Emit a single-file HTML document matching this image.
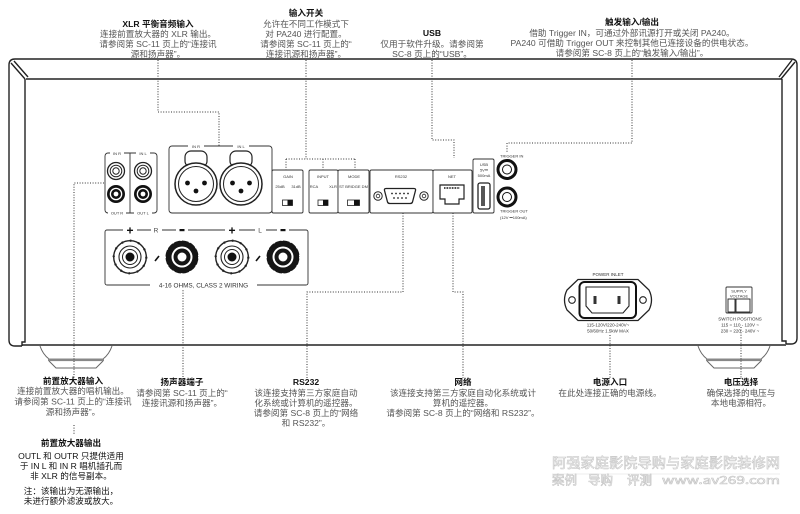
<!DOCTYPE html>
<html><head><meta charset="utf-8">
<style>
html,body{margin:0;padding:0;background:#fff;}
svg{display:block;}
text{font-family:"Liberation Sans","Noto Sans CJK SC",sans-serif;}
.h{font-size:8.6px;font-weight:bold;fill:#111;text-anchor:middle;}
.b{font-size:8.6px;fill:#555;text-anchor:middle;}
.k{font-size:8.6px;fill:#111;text-anchor:middle;}
.s{font-size:4px;fill:#333;text-anchor:middle;}
.m{font-size:4.5px;fill:#333;text-anchor:middle;}
.d{fill:none;stroke:#333;stroke-width:1;stroke-dasharray:1 1.6;}
.o{fill:none;stroke:#222;stroke-width:1.4;}
.p{fill:#fff;stroke:#333;stroke-width:0.9;}
.w{font-family:"Noto Sans CJK SC","WenQuanYi Zen Hei",sans-serif;fill:#fff;stroke:#c6c6c6;stroke-width:0.6;}
</style></head><body>
<svg width="800" height="514" viewBox="0 0 800 514" xmlns="http://www.w3.org/2000/svg">

<!-- feet -->
<g fill="#fff" stroke="#666" stroke-width="1">
  <path d="M40,346 C42,352 45,356 49,359 L103,359 C107,356 110,352 112,346"/>
  <path d="M49,361 L56,368 L96,368 L103,361"/>
  <path d="M698,346 C700,352 703,356 707,359 L761,359 C765,356 768,352 770,346"/>
  <path d="M707,361 L714,368 L754,368 L761,361"/>
</g>
<rect x="48" y="358.5" width="56" height="2.6" fill="#888"/>
<rect x="706" y="358.5" width="56" height="2.6" fill="#888"/>

<!-- chassis -->
<path class="o" d="M22,346 L15,346 Q9,346 9,340 L9,65 Q9,59 15,59 L791,59 Q797,59 797,65 L797,338 Q797,344 791,344 L786,344"/>
<path class="o" d="M22,345 H786"/>
<path class="o" d="M25,79 V342 H22 V346"/>
<path class="o" d="M782,79 V341 H786 V344"/>
<path class="o" d="M26,79 H782"/>
<path class="o" d="M11,63 L25,79 M14,61 L28,77"/>
<path class="o" d="M795,62 L781,79 M792,60 L779,77"/>

<!-- dotted connectors -->
<path class="d" d="M158,60 V112 H219 V146"/>
<path class="d" d="M306,60 V159 M286,159 H355 M286,159 V170 M323,159 V170 M355,159 V170"/>
<path class="d" d="M432,60 V140 H454 V158"/>
<path class="d" d="M632,60 V143 H507 V152"/>
<path class="d" d="M104,183 H74 V379 M74,425 V434"/>
<path class="d" d="M183,285 V379"/>
<path class="d" d="M403,213 V292 H307 V378"/>
<path class="d" d="M453,213 V292 H463 V378"/>
<path class="d" d="M610,335 V378"/>
<path class="d" d="M741,327 V378"/>

<!-- preamp RCA block -->
<rect x="105" y="153" width="52" height="60" rx="3" class="p"/>
<line x1="130" y1="153" x2="130" y2="213" stroke="#333" stroke-width="0.9"/>
<rect x="110" y="151" width="14" height="5" fill="#fff"/><rect x="136" y="151" width="14" height="5" fill="#fff"/>
<rect x="108" y="211" width="18" height="5" fill="#fff"/><rect x="134" y="211" width="18" height="5" fill="#fff"/>
<text class="s" x="117" y="155">IN R</text><text class="s" x="143" y="155">IN L</text>
<text class="s" x="117" y="214.5">OUT R</text><text class="s" x="143" y="214.5">OUT L</text>
<g stroke="#222" fill="#fff">
  <circle cx="116" cy="171" r="8.5" stroke-width="1.3"/><circle cx="116" cy="171" r="5.8" stroke-width="1"/><circle cx="116" cy="171" r="3.2" stroke-width="1"/>
  <circle cx="143" cy="171" r="8.5" stroke-width="1.3"/><circle cx="143" cy="171" r="5.8" stroke-width="1"/><circle cx="143" cy="171" r="3.2" stroke-width="1"/>
</g>
<g>
  <circle cx="116" cy="194" r="9" fill="#111"/><circle cx="116" cy="194" r="6.3" fill="#fff"/><circle cx="116" cy="194" r="5" fill="#111"/><circle cx="116" cy="194" r="2.4" fill="#fff"/>
  <circle cx="143" cy="194" r="9" fill="#111"/><circle cx="143" cy="194" r="6.3" fill="#fff"/><circle cx="143" cy="194" r="5" fill="#111"/><circle cx="143" cy="194" r="2.4" fill="#fff"/>
</g>

<!-- XLR block -->
<rect x="169" y="146" width="103" height="67" rx="3" class="p"/>
<rect x="188" y="144" width="16" height="5" fill="#fff"/><rect x="233" y="144" width="16" height="5" fill="#fff"/>
<text class="s" x="196" y="148">IN R</text><text class="s" x="241" y="148">IN L</text>
<g stroke="#222" fill="#fff">
  <rect x="185" y="151" width="22" height="16" rx="6" stroke-width="1.2"/>
  <circle cx="196" cy="184" r="21" stroke-width="1.5"/><circle cx="196" cy="184" r="17.5" stroke-width="1"/>
  <rect x="230" y="151" width="22" height="16" rx="6" stroke-width="1.2"/>
  <circle cx="241" cy="184" r="21" stroke-width="1.5"/><circle cx="241" cy="184" r="17.5" stroke-width="1"/>
</g>
<g fill="#111">
  <circle cx="187.5" cy="183" r="2.4"/><circle cx="204.5" cy="183" r="2.4"/><circle cx="196" cy="191" r="2.4"/>
  <circle cx="232.5" cy="183" r="2.4"/><circle cx="249.5" cy="183" r="2.4"/><circle cx="241" cy="191" r="2.4"/>
</g>

<!-- speaker block -->
<rect x="105" y="230" width="203" height="55" rx="2" class="p"/>
<g fill="#fff">
  <rect x="123" y="226" width="14" height="8"/><rect x="151" y="226" width="11" height="8"/><rect x="176" y="226" width="12" height="8"/>
  <rect x="225" y="226" width="14" height="8"/><rect x="255" y="226" width="11" height="8"/><rect x="277" y="226" width="12" height="8"/>
  <rect x="150" y="281" width="107" height="8"/>
</g>
<g font-family="Liberation Sans, sans-serif" text-anchor="middle">
  <text x="130" y="234.5" font-size="12" font-weight="bold" fill="#111">+</text>
  <text x="156" y="232.5" font-size="6.5" fill="#444">R</text>
  <rect x="179.5" y="229" width="5" height="2.2" fill="#111"/>
  <text x="232" y="234.5" font-size="12" font-weight="bold" fill="#111">+</text>
  <text x="260" y="232.5" font-size="6.5" fill="#444">L</text>
  <rect x="280.5" y="229" width="5" height="2.2" fill="#111"/>
  <text x="203.5" y="287.3" font-size="6.4" fill="#333">4-16 OHMS, CLASS 2 WIRING</text>
</g>
<!-- terminals -->
<g>
  <circle cx="130" cy="257" r="16.3" fill="#fff" stroke="#222" stroke-width="1.4"/>
  <circle cx="130" cy="257" r="16.3" fill="none" stroke="#222" stroke-width="2.2" stroke-dasharray="1.6 6.9"/>
  <circle cx="130" cy="257" r="11" fill="none" stroke="#222" stroke-width="1.1"/>
  <circle cx="130" cy="257" r="7.5" fill="none" stroke="#222" stroke-width="1"/>
  <circle cx="130" cy="257" r="4.5" fill="#111"/>
  <circle cx="232" cy="257" r="16.3" fill="#fff" stroke="#222" stroke-width="1.4"/>
  <circle cx="232" cy="257" r="16.3" fill="none" stroke="#222" stroke-width="2.2" stroke-dasharray="1.6 6.9"/>
  <circle cx="232" cy="257" r="11" fill="none" stroke="#222" stroke-width="1.1"/>
  <circle cx="232" cy="257" r="7.5" fill="none" stroke="#222" stroke-width="1"/>
  <circle cx="232" cy="257" r="4.5" fill="#111"/>
  <circle cx="182" cy="257" r="16.5" fill="#151515"/>
  <circle cx="182" cy="257" r="16.8" fill="none" stroke="#fff" stroke-width="1.4" stroke-dasharray="1.6 7"/>
  <circle cx="182" cy="257" r="10.5" fill="#fff"/><circle cx="182" cy="257" r="8.5" fill="#151515"/><circle cx="182" cy="257" r="4.5" fill="#fff"/>
  <circle cx="283" cy="257" r="16.5" fill="#151515"/>
  <circle cx="283" cy="257" r="16.8" fill="none" stroke="#fff" stroke-width="1.4" stroke-dasharray="1.6 7"/>
  <circle cx="283" cy="257" r="10.5" fill="#fff"/><circle cx="283" cy="257" r="8.5" fill="#151515"/><circle cx="283" cy="257" r="4.5" fill="#fff"/>
</g>
<path d="M155,261 L159,256 M256,261 L260,256" stroke="#111" stroke-width="1.6"/>

<!-- small switch panels -->
<rect x="272" y="170" width="31" height="43" rx="1.5" class="p"/>
<rect x="309" y="170" width="29" height="43" rx="1.5" class="p"/>
<rect x="338" y="170" width="31" height="43" rx="1.5" class="p"/>
<rect x="370" y="170" width="63" height="43" rx="1.5" class="p"/>
<rect x="433" y="170" width="39" height="43" rx="1.5" class="p"/>
<rect x="473" y="159" width="21" height="54" rx="1.5" class="p"/>
<text class="s" x="288" y="178">GAIN</text>
<text class="s" x="280" y="188">25dB</text><text class="s" x="296" y="188">31dB</text>
<rect x="282.5" y="200" width="10" height="5.5" fill="#fff" stroke="#222" stroke-width="0.8"/><rect x="287.5" y="200" width="5" height="5.5" fill="#111"/>
<text class="s" x="323" y="178">INPUT</text>
<text class="s" x="314" y="188">RCA</text><text class="s" x="333" y="188">XLR</text>
<rect x="318" y="200" width="10" height="5.5" fill="#fff" stroke="#222" stroke-width="0.8"/><rect x="323" y="200" width="5" height="5.5" fill="#111"/>
<text class="s" x="354" y="178">MODE</text>
<text class="s" x="353.5" y="188">ST BRIDGE DM</text>
<rect x="347.5" y="200" width="12" height="5.5" fill="#fff" stroke="#222" stroke-width="0.8"/><rect x="354" y="200" width="5.5" height="5.5" fill="#111"/>
<text class="s" x="401" y="178">RS232</text>
<g stroke="#222" fill="#fff">
  <circle cx="378" cy="196" r="4.2" stroke-width="1"/><circle cx="378" cy="196" r="1.8" stroke-width="0.8"/>
  <circle cx="424" cy="196" r="4.2" stroke-width="1"/><circle cx="424" cy="196" r="1.8" stroke-width="0.8"/>
  <path d="M386,188.5 H414 Q416,188.5 415.5,190.5 L412.5,202 Q412,203.5 410,203.5 H390 Q388,203.5 387.5,202 L384.5,190.5 Q384,188.5 386,188.5 Z" stroke-width="1.3"/>
</g>
<g fill="#222">
  <circle cx="392" cy="193.5" r="0.9"/><circle cx="396" cy="193.5" r="0.9"/><circle cx="400" cy="193.5" r="0.9"/><circle cx="404" cy="193.5" r="0.9"/><circle cx="408" cy="193.5" r="0.9"/>
  <circle cx="394" cy="198" r="0.9"/><circle cx="398" cy="198" r="0.9"/><circle cx="402" cy="198" r="0.9"/><circle cx="406" cy="198" r="0.9"/>
</g>
<text class="s" x="452" y="178">NET</text>
<path d="M440,185 H464 V199 H459 V204 H445 V199 H440 Z" fill="#fff" stroke="#222" stroke-width="1.2"/>
<line x1="444" y1="188" x2="460" y2="188" stroke="#222" stroke-width="2" stroke-dasharray="0.8 0.8"/>
<text class="s" x="484" y="166">USB</text>
<text class="s" x="484" y="171.5">5V⎓</text>
<text class="s" x="484" y="177">500mA</text>
<rect x="478" y="183" width="12" height="26" rx="2" fill="#fff" stroke="#222" stroke-width="1.3"/>
<rect x="481" y="186" width="4" height="20" fill="#555"/>
<circle cx="507" cy="169.5" r="9" fill="#fff" stroke="#111" stroke-width="3"/><circle cx="507" cy="169.5" r="4.5" fill="none" stroke="#111" stroke-width="1"/>
<circle cx="507" cy="197" r="9" fill="#fff" stroke="#111" stroke-width="3"/><circle cx="507" cy="197" r="4.5" fill="none" stroke="#111" stroke-width="1"/>
<g font-size="4" fill="#333" font-family="Liberation Sans, sans-serif">
  <text x="500" y="157.5">TRIGGER IN</text>
  <text x="500" y="212.5">TRIGGER OUT</text>
  <text x="500" y="219">(12V ⎓100mA)</text>
</g>

<!-- power inlet -->
<text class="m" x="608" y="276">POWER INLET</text>
<path d="M578,279.5 H638 L649,290 Q654,300 649,310 L638,320.5 H578 L567,310 Q562,300 567,290 Z" fill="#fff" stroke="#222" stroke-width="1.3"/>
<circle cx="572" cy="300" r="3.3" fill="#fff" stroke="#222" stroke-width="1.1"/>
<circle cx="643" cy="300" r="3.3" fill="#fff" stroke="#222" stroke-width="1.1"/>
<rect x="579.5" y="282" width="56.5" height="36" rx="5" fill="#fff" stroke="#111" stroke-width="2"/>
<path d="M586,287 H629 V306 L623,313 H592 L586,306 Z" fill="#fff" stroke="#222" stroke-width="1.1"/>
<rect x="593.5" y="296" width="3" height="8" fill="#333"/><rect x="617.5" y="296" width="3" height="8" fill="#333"/>
<text class="m" x="608" y="326.5">115-120V/220-240V~</text>
<text class="m" x="608" y="332.5">50/60Hz  1.5kW MAX</text>

<!-- supply voltage -->
<rect x="726" y="287" width="26" height="26" rx="1" class="p"/>
<text class="s" x="739" y="292.5">SUPPLY</text>
<text class="s" x="739" y="297.5">VOLTAGE</text>
<rect x="728" y="299" width="7" height="13" fill="#fff" stroke="#222" stroke-width="0.9"/>
<rect x="736" y="299" width="14" height="13" fill="#fff" stroke="#222" stroke-width="0.9"/>
<text class="m" x="740" y="320.5">SWITCH POSITIONS</text>
<text class="m" x="740" y="326.5">115 = 110 - 120V ~</text>
<text class="m" x="740" y="332.5">230 = 220 - 240V ~</text>

<!-- top labels -->
<text class="h" x="158" y="27">XLR 平衡音频输入</text>
<text class="b" x="158" y="37">连接前置放大器的 XLR 输出。</text>
<text class="b" x="158" y="47">请参阅第 SC-11 页上的“连接讯</text>
<text class="b" x="158" y="57">源和扬声器”。</text>

<text class="h" x="306" y="16">输入开关</text>
<text class="b" x="306" y="27">允许在不同工作模式下</text>
<text class="b" x="306" y="37">对 PA240 进行配置。</text>
<text class="b" x="306" y="47">请参阅第 SC-11 页上的“</text>
<text class="b" x="306" y="57">连接讯源和扬声器”。</text>

<text class="h" x="432" y="36">USB</text>
<text class="b" x="432" y="47">仅用于软件升级。请参阅第</text>
<text class="b" x="432" y="57">SC-8 页上的“USB”。</text>

<text class="h" x="632" y="25">触发输入/输出</text>
<text class="b" x="632" y="36">借助 Trigger IN，可通过外部讯源打开或关闭 PA240。</text>
<text class="b" x="632" y="46">PA240 可借助 Trigger OUT 来控制其他已连接设备的供电状态。</text>
<text class="b" x="632" y="56">请参阅第 SC-8 页上的“触发输入/输出”。</text>

<!-- bottom labels -->
<text class="h" x="73" y="384">前置放大器输入</text>
<text class="b" x="73" y="394">连接前置放大器的唱机输出。</text>
<text class="b" x="73" y="404.5">请参阅第 SC-11 页上的“连接讯</text>
<text class="b" x="73" y="415">源和扬声器”。</text>

<text class="h" x="71" y="446">前置放大器输出</text>
<text class="k" x="71" y="459">OUTL 和 OUTR 只提供适用</text>
<text class="k" x="71" y="469">于 IN L 和 IN R 唱机插孔而</text>
<text class="k" x="71" y="479">非 XLR 的信号副本。</text>
<text class="k" x="71" y="494">注：该输出为无源输出，</text>
<text class="k" x="71" y="504">未进行额外滤波或放大。</text>

<text class="h" x="182" y="385">扬声器端子</text>
<text class="b" x="182" y="396">请参阅第 SC-11 页上的“</text>
<text class="b" x="182" y="406">连接讯源和扬声器”。</text>

<text class="h" x="306" y="385">RS232</text>
<text class="b" x="306" y="396">该连接支持第三方家庭自动</text>
<text class="b" x="306" y="406">化系统或计算机的遥控器。</text>
<text class="b" x="306" y="416">请参阅第 SC-8 页上的“网络</text>
<text class="b" x="306" y="426">和 RS232”。</text>

<text class="h" x="463" y="385">网络</text>
<text class="b" x="463" y="396">该连接支持第三方家庭自动化系统或计</text>
<text class="b" x="463" y="406">算机的遥控器。</text>
<text class="b" x="463" y="416">请参阅第 SC-8 页上的“网络和 RS232”。</text>

<text class="h" x="610" y="385">电源入口</text>
<text class="b" x="610" y="396">在此处连接正确的电源线。</text>

<text class="h" x="741" y="385">电压选择</text>
<text class="b" x="741" y="396">确保选择的电压与</text>
<text class="b" x="741" y="406">本地电源相符。</text>

<!-- watermark -->
<text class="w" x="552" y="468" font-size="14" textLength="228" lengthAdjust="spacingAndGlyphs">阿强家庭影院导购与家庭影院装修网</text>
<line x1="552" y1="474" x2="780" y2="474" stroke="#e6e6e6" stroke-width="0.8"/>
<text class="w" x="552" y="484.5" font-size="12.5">案例</text>
<text class="w" x="588" y="484.5" font-size="12.5">导购</text>
<text class="w" x="627" y="484.5" font-size="12.5">评测</text>
<text class="w" x="662" y="484" font-size="11" textLength="118" lengthAdjust="spacingAndGlyphs">www.av269.com</text>
</svg>
</body></html>
